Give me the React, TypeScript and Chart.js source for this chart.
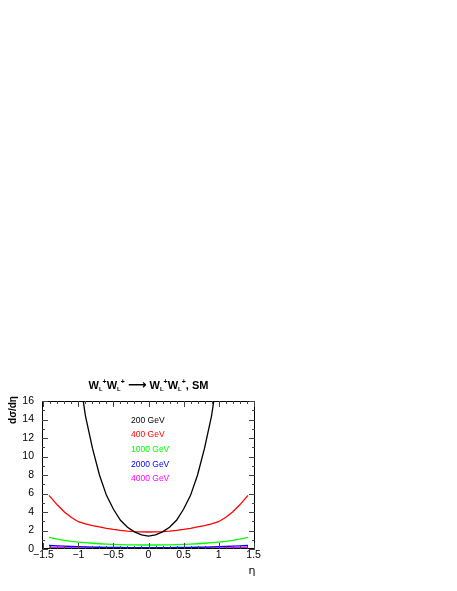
import { useEffect, useRef } from "react"
import { Chart, registerables } from "chart.js"
import type { Plugin } from "chart.js"

Chart.register(...registerables)

// pseudorapidity grid
const eta = [
  -1.42, -1.3, -1.2, -1.1, -1.0, -0.9, -0.8, -0.7, -0.6, -0.5, -0.4, -0.3, -0.2, -0.1,
  0,
  0.1, 0.2, 0.3, 0.4, 0.5, 0.6, 0.7, 0.8, 0.9, 1.0, 1.1, 1.2, 1.3, 1.42,
]

// dσ/dη for each energy
const gev200 = [
  null, null, null, null, 19.5, 14.4, 10.9, 8.0, 5.8, 4.3, 3.1, 2.35, 1.85, 1.52,
  1.4,
  1.52, 1.85, 2.35, 3.1, 4.3, 5.8, 8.0, 10.9, 14.4, 19.5, null, null, null, null,
]
const gev400 = [
  5.8, 4.75, 4.0, 3.4, 2.95, 2.72, 2.53, 2.38, 2.24, 2.12, 2.02, 1.94, 1.88, 1.85,
  1.84,
  1.85, 1.88, 1.94, 2.02, 2.12, 2.24, 2.38, 2.53, 2.72, 2.95, 3.4, 4.0, 4.75, 5.8,
]
const gev1000 = [
  1.25, 1.07, 0.94, 0.83, 0.75, 0.68, 0.62, 0.57, 0.53, 0.5, 0.47, 0.45, 0.44, 0.43,
  0.43,
  0.43, 0.44, 0.45, 0.47, 0.5, 0.53, 0.57, 0.62, 0.68, 0.75, 0.83, 0.94, 1.07, 1.25,
]
const gev2000 = [
  0.38, 0.34, 0.3, 0.27, 0.25, 0.23, 0.21, 0.19, 0.18, 0.17, 0.16, 0.155, 0.15, 0.15,
  0.15,
  0.15, 0.15, 0.155, 0.16, 0.17, 0.18, 0.19, 0.21, 0.23, 0.25, 0.27, 0.3, 0.34, 0.38,
]
const gev4000 = [
  0.17, 0.15, 0.14, 0.13, 0.12, 0.12, 0.11, 0.11, 0.1, 0.1, 0.1, 0.1, 0.1, 0.1,
  0.1,
  0.1, 0.1, 0.1, 0.1, 0.1, 0.1, 0.11, 0.11, 0.12, 0.12, 0.13, 0.14, 0.15, 0.17,
]

const seriesLabels = ["200 GeV", "400 GeV", "1000 GeV", "2000 GeV", "4000 GeV"]
const seriesValues = [gev200, gev400, gev1000, gev2000, gev4000]
const seriesColors = ["#000000", "#ff0000", "#00ff00", "#0000ff", "#ff00ff"]

const xTicks = [-1.5, -1, -0.5, 0, 0.5, 1, 1.5]
const yTicks = [0, 2, 4, 6, 8, 10, 12, 14, 16]

const fmt = (v: number) => (v < 0 ? "\u2212" + String(-v) : String(v))

type Part = { t: string; size: number; dy: number; family?: string }

const SANS = '"Liberation Sans", Arial, sans-serif'

function drawParts(ctx: CanvasRenderingContext2D, parts: Part[], cx: number, y: number, weight: string) {
  let total = 0
  for (const p of parts) {
    ctx.font = `${weight} ${p.size}px ${p.family ?? SANS}`
    total += ctx.measureText(p.t).width
  }
  let x = cx - total / 2
  ctx.textAlign = "left"
  ctx.textBaseline = "alphabetic"
  for (const p of parts) {
    ctx.font = `${weight} ${p.size}px ${p.family ?? SANS}`
    ctx.fillText(p.t, x, y + p.dy)
    x += ctx.measureText(p.t).width
  }
}

const framePlugin: Plugin = {
  id: "frame",
  afterDraw(chart) {
    const { ctx, chartArea: a, scales } = chart
    const xs = scales.x
    const ys = scales.y
    ctx.save()

    // frame
    ctx.strokeStyle = "#000"
    ctx.lineWidth = 1
    ctx.strokeRect(a.left + 0.5, a.top + 0.5, a.right - a.left - 1, a.bottom - a.top - 1)

    // inward ticks
    ctx.strokeStyle = "#444"
    ctx.beginPath()
    for (let i = -15; i <= 15; i++) {
      const px = Math.round(xs.getPixelForValue(i / 10)) + 0.5
      const len = i % 5 === 0 ? 6 : 3
      ctx.moveTo(px, a.bottom)
      ctx.lineTo(px, a.bottom - len)
      ctx.moveTo(px, a.top)
      ctx.lineTo(px, a.top + len)
    }
    for (let i = 0; i <= 16; i++) {
      const py = Math.round(ys.getPixelForValue(i)) + 0.5
      const len = i % 2 === 0 ? 6 : 3
      ctx.moveTo(a.left, py)
      ctx.lineTo(a.left + len, py)
      ctx.moveTo(a.right, py)
      ctx.lineTo(a.right - len, py)
    }
    ctx.stroke()

    // title
    ctx.fillStyle = "#000"
    const W: Part[] = [
      { t: "W", size: 11, dy: 0 },
      { t: "L", size: 6, dy: 2 },
      { t: "+", size: 7, dy: -5 },
    ]
    drawParts(
      ctx,
      [
        ...W,
        ...W,
        { t: " ", size: 11, dy: 0 },
        { t: "\u27f6", size: 13, dy: 0, family: '"DejaVu Sans", sans-serif' },
        { t: " ", size: 11, dy: 0 },
        ...W,
        ...W,
        { t: ", SM", size: 11, dy: 0 },
      ],
      (a.left + a.right) / 2,
      a.top - 12,
      "bold",
    )

    // y axis title
    ctx.save()
    ctx.translate(13, a.top + 9)
    ctx.rotate(-Math.PI / 2)
    ctx.font = `bold 10px ${SANS}`
    ctx.textAlign = "center"
    ctx.textBaseline = "middle"
    ctx.fillText("d\u03c3/d\u03b7", 0, 0)
    ctx.restore()

    // x axis title
    ctx.font = '11px "DejaVu Sans", sans-serif'
    ctx.textAlign = "center"
    ctx.textBaseline = "middle"
    ctx.fillText("\u03b7", a.right - 3, a.bottom + 22)

    // energy labels
    ctx.font = `8.5px ${SANS}`
    ctx.textAlign = "left"
    seriesLabels.forEach((lab, i) => {
      ctx.fillStyle = seriesColors[i]
      ctx.fillText(lab, 131, a.top + 19.5 + i * 14.6)
    })

    ctx.restore()
  },
}

export default function App() {
  const canvasRef = useRef<HTMLCanvasElement>(null)

  useEffect(() => {
    if (!canvasRef.current) return
    const chart = new Chart(canvasRef.current, {
      type: "line",
      data: {
        datasets: seriesValues.map((vals, i) => ({
          label: seriesLabels[i],
          data: eta.map((x, j) => ({ x, y: vals[j] as number })),
          borderColor: seriesColors[i],
          backgroundColor: seriesColors[i],
          borderWidth: 1.3,
          pointRadius: 0,
          tension: 0,
          spanGaps: false,
        })),
      },
      options: {
        responsive: false,
        animation: false,
        layout: { padding: { left: 0, top: 401, right: 202, bottom: 0 } },
        plugins: {
          legend: { display: false },
          tooltip: { enabled: false },
        },
        scales: {
          x: {
            type: "linear",
            min: -1.52,
            max: 1.52,
            afterBuildTicks: (s) => {
              s.ticks = xTicks.map((v) => ({ value: v }))
            },
            afterFit: (s) => {
              s.height = 42
            },
            grid: { display: false, drawTicks: false },
            border: { display: false },
            ticks: {
              padding: 0,
              color: "#000",
              autoSkip: false,
              maxRotation: 0,
              font: { family: SANS, size: 10.5 },
              callback: (v) => fmt(Number(v)),
            },
          },
          y: {
            min: 0,
            max: 16,
            afterBuildTicks: (s) => {
              s.ticks = yTicks.map((v) => ({ value: v }))
            },
            afterFit: (s) => {
              s.width = 42
            },
            grid: { display: false, drawTicks: false },
            border: { display: false },
            ticks: {
              padding: 8,
              color: "#000",
              autoSkip: false,
              font: { family: SANS, size: 10.5 },
              callback: (v) => fmt(Number(v)),
            },
          },
        },
      },
      plugins: [framePlugin],
    })
    return () => chart.destroy()
  }, [])

  return (
    <div style={{ position: "fixed", left: 0, top: 0, width: 457, height: 591, background: "#fff" }}>
      <canvas ref={canvasRef} width={457} height={591} style={{ width: 457, height: 591 }} />
    </div>
  )
}
